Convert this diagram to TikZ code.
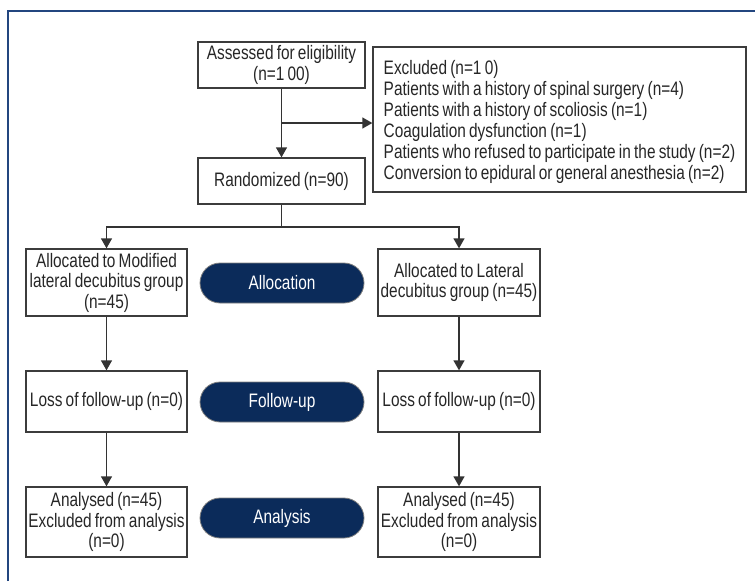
\documentclass[tikz,border=0pt]{standalone}
\usepackage{fontspec}
\setmainfont{Liberation Sans}[FakeStretch=0.79, WordSpace=0.75]
\usetikzlibrary{arrows.meta}
\definecolor{navy}{HTML}{0B2B5A}
\definecolor{framec}{HTML}{23467F}
\definecolor{boxc}{HTML}{3C3C3C}
\definecolor{linec}{HTML}{333333}
\begin{document}
\begin{tikzpicture}[x=1pt,y=-1pt,
  font=\fontsize{19.5}{20.5}\selectfont,
  box/.style={draw=boxc, line width=1.3pt, align=center, inner sep=0pt, text=black!85},
  pill/.style={draw=gray, line width=0.8pt, fill=navy, rounded corners=20pt, text=white,
    minimum width=164pt, minimum height=40pt, inner sep=0pt},
  conn/.style={draw=linec, line width=1.3pt},
  arr/.style={conn, -{Triangle[width=11pt,length=10pt]}}]
\useasboundingbox (0,0) rectangle (755,581);
% frame
\draw[framec, line width=1.4pt] (8,581) -- (8,11) -- (755,11);

\node[box, align=left, minimum width=373pt, minimum height=145pt,
  font=\fontsize{19.5}{21}\selectfont] (excl) at (559.5,119.5)
  {\rule{0pt}{20pt}Excluded (n=1 0)\\
   Patients with a history of spinal surgery (n=4)\\
   Patients with a history of scoliosis (n=1)\\
   Coagulation dysfunction (n=1)\\
   Patients who refused to participate in the study (n=2)\\
   Conversion to epidural or general anesthesia (n=2)};
\node[box, minimum width=167pt, minimum height=46pt] (assess) at (281.5,65)
  {Assessed for eligibility\\(n=1 00)};
\node[box, minimum width=167pt, minimum height=46pt] (rand) at (281.5,181)
  {Randomized (n=90)};

\node[box, minimum width=161pt, minimum height=67pt] (allocL) at (106.5,282.5)
  {Allocated to Modified\\lateral decubitus group\\(n=45)};
\node[box, minimum width=162pt, minimum height=67pt] (allocR) at (459,282.5)
  {Allocated to Lateral\\decubitus group (n=45)};
\node[pill] (pAlloc) at (282,283) {Allocation};

\node[box, minimum width=161pt, minimum height=61pt] (lossL) at (106.5,401.5)
  {Loss of follow-up (n=0)};
\node[box, minimum width=162pt, minimum height=61pt] (lossR) at (459,401.5)
  {Loss of follow-up (n=0)};
\node[pill] (pFollow) at (282,402) {Follow-up};

\node[box, minimum width=161pt, minimum height=70pt] (anaL) at (106.5,522)
  {Analysed (n=45)\\Excluded from analysis\\(n=0)};
\node[box, minimum width=162pt, minimum height=70pt] (anaR) at (459,522)
  {Analysed (n=45)\\Excluded from analysis\\(n=0)};
\node[pill] (pAna) at (282,518) {Analysis};

% connectors
\draw[arr] (assess.south) -- (rand.north);
\coordinate (br) at (281.5,123);
\draw[arr] (br) -- (br -| excl.west);
\coordinate (junc) at (281.5,227);
\draw[conn] (rand.south) -- (junc);
\draw[arr] (junc) -| (allocL.north);
\draw[arr] (junc) -| (allocR.north);
\draw[arr] (allocL.south) -- (lossL.north);
\draw[arr] (allocR.south) -- (lossR.north);
\draw[arr] (lossL.south) -- (anaL.north);
\draw[arr] (lossR.south) -- (anaR.north);
\end{tikzpicture}
\end{document}
